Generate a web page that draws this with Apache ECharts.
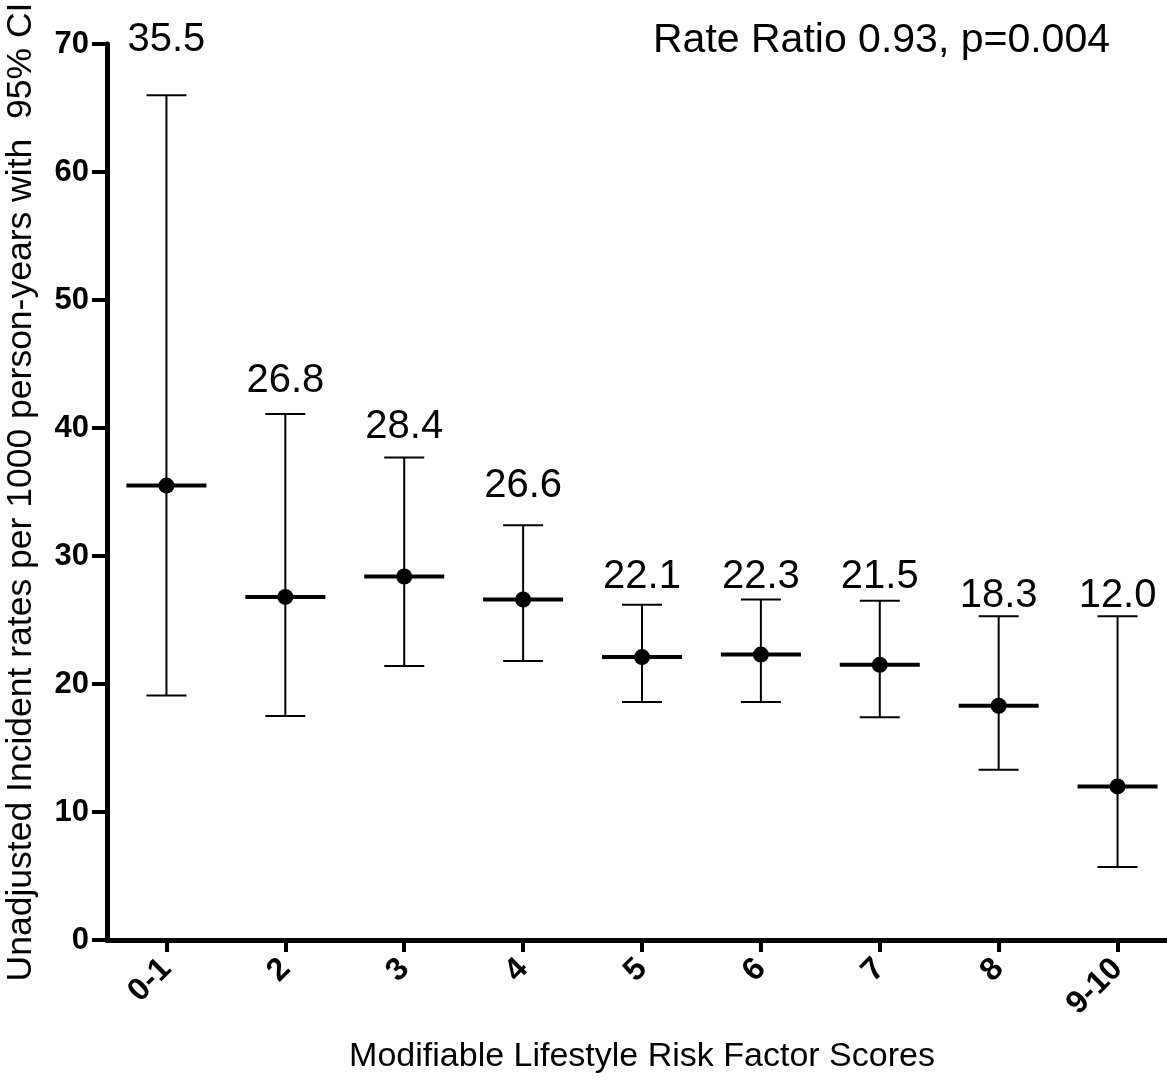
<!DOCTYPE html>
<html>
<head>
<meta charset="utf-8">
<script src="https://cdn.jsdelivr.net/npm/echarts@6/dist/echarts.min.js"></script>
<style>html,body{margin:0;padding:0;background:#fff}#c{width:1167px;height:1083px}</style>
</head>
<body>
<div id="c"></div>
<script>
const categories = ['0-1','2','3','4','5','6','7','8','9-10'];
const means = [35.5, 26.8, 28.4, 26.6, 22.1, 22.3, 21.5, 18.3, 12.0];
const lower = [19.1, 17.5, 21.4, 21.8, 18.6, 18.6, 17.4, 13.3, 5.7];
const upper = [66.0, 41.1, 37.7, 32.4, 26.2, 26.6, 26.5, 25.3, 25.3];
// where each value annotation sits (data units)
const labelAt = [70.3, 43.7, 40.1, 35.5, 28.4, 28.4, 28.4, 26.9, 26.9];
const yTicks = [0, 10, 20, 30, 40, 50, 60, 70];

const FONT = "'Liberation Sans', Arial, Helvetica, sans-serif";
const chart = echarts.init(document.getElementById('c'), null, {renderer: 'canvas'});

const data = categories.map((c, i) => [i, lower[i], upper[i], means[i], labelAt[i]]);

chart.setOption({
  animation: false,
  backgroundColor: '#fff',
  title: {
    text: 'Rate Ratio 0.93, p=0.004',
    left: 648, top: 15,
    textStyle: {fontFamily: FONT, fontSize: 41, fontWeight: 'normal', color: '#000'}
  },
  grid: {left: 107, width: 1070, top: 44, bottom: 143, containLabel: false, outerBoundsMode: 'none'},
  xAxis: {
    type: 'category',
    data: categories,
    boundaryGap: true,
    name: 'Modifiable Lifestyle Risk Factor Scores',
    nameLocation: 'middle',
    nameGap: 100,
    nameTextStyle: {fontFamily: FONT, fontSize: 34, color: '#000'},
    axisLine: {lineStyle: {color: '#000', width: 5}},
    axisTick: {show: true, alignWithLabel: true, length: 12, lineStyle: {color: '#000', width: 4}},
    axisLabel: {rotate: 45, margin: 24, fontFamily: FONT, fontSize: 32, fontWeight: 'bold', color: '#000', interval: 0},
    splitLine: {show: false}
  },
  yAxis: {
    type: 'value',
    min: yTicks[0], max: yTicks[yTicks.length - 1], interval: 10,
    name: 'Unadjusted Incident rates per 1000 person-years with  95% CI',
    nameLocation: 'middle',
    nameGap: 68,
    nameTextStyle: {fontFamily: FONT, fontSize: 35.5, color: '#000'},
    axisLine: {show: true, lineStyle: {color: '#000', width: 5}},
    axisTick: {show: true, length: 15, lineStyle: {color: '#000', width: 4}},
    axisLabel: {margin: 18, fontFamily: FONT, fontSize: 31, fontWeight: 'bold', color: '#000'},
    splitLine: {show: false}
  },
  series: [{
    type: 'custom',
    clip: false,
    data: data,
    encode: {x: 0, y: [1, 2, 3]},
    renderItem: function (params, api) {
      const i = api.value(0);
      const lo = api.coord([i, api.value(1)]);
      const hi = api.coord([i, api.value(2)]);
      const m = api.coord([i, api.value(3)]);
      const lab = api.coord([i, api.value(4)]);
      const x = m[0];
      const thin = {stroke: '#000', lineWidth: 2};
      return {
        type: 'group',
        children: [
          {type: 'line', shape: {x1: x, y1: lo[1], x2: x, y2: hi[1]}, style: thin},
          {type: 'line', shape: {x1: x - 20, y1: hi[1], x2: x + 20, y2: hi[1]}, style: thin},
          {type: 'line', shape: {x1: x - 20, y1: lo[1], x2: x + 20, y2: lo[1]}, style: thin},
          {type: 'line', shape: {x1: x - 40, y1: m[1], x2: x + 40, y2: m[1]}, style: {stroke: '#000', lineWidth: 4}},
          {type: 'circle', shape: {cx: x, cy: m[1], r: 8}, style: {fill: '#000'}},
          {type: 'text', x: x, y: lab[1], style: {
            text: means[params.dataIndex].toFixed(1),
            fontFamily: FONT, fontSize: 40, fill: '#000',
            align: 'center', verticalAlign: 'middle'
          }}
        ]
      };
    }
  }]
});
</script>
</body>
</html>
